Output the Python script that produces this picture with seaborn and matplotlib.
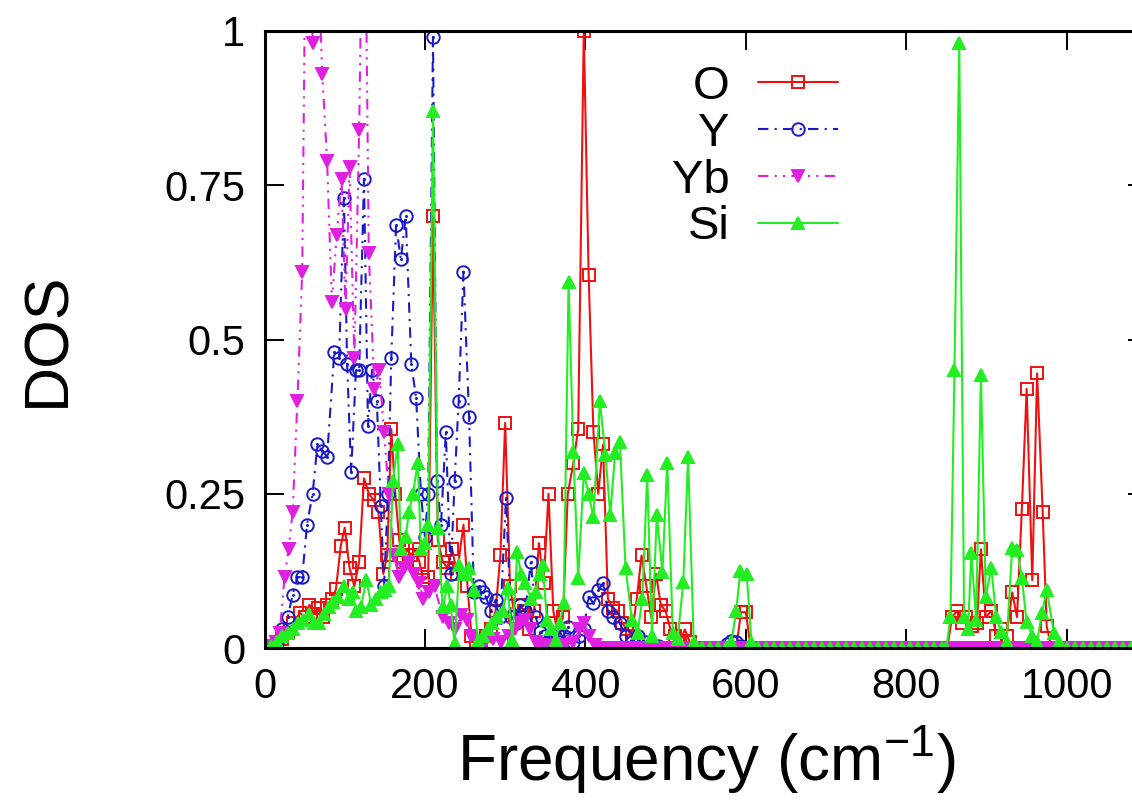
import pandas as pd
import seaborn as sns
import matplotlib.pyplot as plt

# Style: plain white, gnuplot-like
sns.set_theme(style="ticks")
plt.rcParams['font.family'] = ['Liberation Sans', 'DejaVu Sans']
plt.rcParams['mathtext.fontset'] = 'custom'
plt.rcParams['mathtext.rm'] = 'Liberation Sans'
plt.rcParams['mathtext.it'] = 'Liberation Sans:italic'
plt.rcParams['text.color'] = 'black'
plt.rcParams['axes.labelcolor'] = 'black'

# === Data ===
O_freq = [0, 8, 15, 22, 29, 36, 44, 50, 56, 62,
          67, 73, 78, 84, 89, 95, 100, 106, 112, 118,
          124, 130, 136, 142, 148, 153, 158, 163, 168, 173,
          178, 183, 188, 193, 198, 204, 210, 216, 222, 228,
          234, 240, 248, 253, 258, 264, 270, 276, 282, 288,
          294, 300, 306, 312, 318, 324, 330, 336, 342, 348,
          354, 360, 366, 372, 378, 385, 391, 398, 404, 410,
          416, 422, 428, 434, 440, 446, 452, 458, 464, 470,
          476, 482, 488, 494, 500, 506, 512, 518, 524, 530,
          540, 550, 560, 570, 580, 588, 594, 600, 606, 615,
          625, 635, 645, 655, 665, 675, 685, 695, 705, 715,
          725, 735, 745, 755, 765, 775, 785, 795, 805, 815,
          825, 835, 845, 851, 857, 863, 869, 875, 882, 888,
          893, 899, 906, 912, 918, 925, 932, 938, 944, 950,
          957, 963, 970, 975, 981, 990, 1000, 1010, 1020, 1030,
          1040, 1050, 1060, 1070, 1080, 1090, 1100]
O_dos = [0, 0.003, 0.008, 0.015, 0.025, 0.04, 0.057, 0.05, 0.07, 0.055,
         0.065, 0.05, 0.07, 0.08, 0.095, 0.165, 0.195, 0.13, 0.10, 0.14,
         0.275, 0.25, 0.24, 0.22, 0.12, 0.15, 0.355, 0.25, 0.175, 0.14,
         0.16, 0.15, 0.16, 0.14, 0.11, 0.115, 0.70, 0.175, 0.14, 0.13,
         0.16, 0.12, 0.20, 0.10, 0.02, 0.01, 0.008, 0.02, 0.03, 0.06,
         0.15, 0.365, 0.10, 0.05, 0.07, 0.06, 0.03, 0.06, 0.17, 0.105,
         0.25, 0.06, 0.02, 0.05, 0.25, 0.30, 0.355, 1.0, 0.605, 0.35,
         0.25, 0.33, 0.08, 0.065, 0.06, 0.04, 0.03, 0.02, 0.08, 0.15,
         0.10, 0.05, 0.12, 0.07, 0.06, 0.03, 0.02, 0.01, 0.03, 0.01,
         0, 0, 0, 0, 0, 0, 0.058, 0.058, 0, 0,
         0, 0, 0, 0, 0, 0, 0, 0, 0, 0,
         0, 0, 0, 0, 0, 0, 0, 0, 0, 0,
         0, 0, 0, 0, 0.05, 0.06, 0.04, 0.05, 0.035, 0.04,
         0.16, 0.05, 0.06, 0.02, 0.03, 0.02, 0.09, 0.05, 0.225, 0.42,
         0.11, 0.445, 0.22, 0.035, 0, 0, 0, 0, 0, 0,
         0, 0, 0, 0, 0, 0, 0]

Y_freq = [0, 8, 15, 22, 29, 35, 41, 47, 53, 60,
          66, 72, 78, 87, 93, 99, 103, 108, 114, 118,
          124, 129, 134, 140, 145, 149, 154, 158, 164, 170,
          176, 183, 189, 195, 200, 204, 210, 215, 220, 226,
          232, 237, 242, 248, 255, 261, 267, 272, 276, 282,
          288, 294, 301, 307, 313, 319, 325, 332, 338, 344,
          350, 356, 362, 368, 373, 378, 385, 392, 398, 404,
          410, 416, 422, 428, 435, 443, 450, 458, 466, 474,
          482, 490, 500, 510, 520, 530, 540, 550, 560, 570,
          576, 582, 588, 594, 600, 610, 620, 630, 640, 650,
          660, 670, 680, 690, 700, 710, 720, 730, 740, 750,
          760, 770, 780, 790, 800, 810, 820, 830, 840, 850,
          860, 870, 880, 890, 900, 910, 920, 930, 940, 950,
          960, 970, 980, 990, 1000, 1010, 1020, 1030, 1040, 1050,
          1060, 1070, 1080, 1090, 1100]
Y_dos = [0, 0.003, 0.01, 0.03, 0.05, 0.086, 0.115, 0.115, 0.20, 0.25,
         0.33, 0.32, 0.31, 0.48, 0.47, 0.73, 0.46, 0.285, 0.45, 0.45,
         0.76, 0.36, 0.45, 0.40, 0.23, 0.10, 0.25, 0.47, 0.685, 0.63,
         0.70, 0.46, 0.405, 0.25, 0.18, 0.25, 0.99, 0.27, 0.20, 0.35,
         0.12, 0.27, 0.40, 0.61, 0.375, 0.09, 0.10, 0.09, 0.083, 0.06,
         0.078, 0.05, 0.243, 0.05, 0.04, 0.07, 0.06, 0.14, 0.05, 0.026,
         0.02, 0.01, 0.02, 0.01, 0.02, 0.034, 0.01, 0.02, 0.03, 0.083,
         0.073, 0.094, 0.105, 0.06, 0.05, 0.04, 0.02, 0.01, 0.02, 0.01,
         0.005, 0.003, 0, 0, 0, 0, 0, 0, 0, 0,
         0.006, 0.012, 0.01, 0.004, 0, 0, 0, 0, 0, 0,
         0, 0, 0, 0, 0, 0, 0, 0, 0, 0,
         0, 0, 0, 0, 0, 0, 0, 0, 0, 0,
         0, 0, 0, 0, 0, 0, 0, 0, 0, 0,
         0, 0, 0, 0, 0, 0, 0, 0, 0, 0,
         0, 0, 0, 0, 0]

Yb_freq = [0, 8, 14, 19, 25, 30, 35, 41, 47, 53,
           60, 66, 72, 78, 84, 90, 96, 101, 106, 112,
           118, 124, 130, 137, 143, 149, 155, 161, 168, 174,
           180, 186, 193, 198, 205, 212, 222, 230, 238, 245,
           252, 258, 265, 275, 285, 295, 305, 312, 319, 325,
           331, 338, 345, 355, 365, 375, 385, 392, 398, 405,
           412, 420, 430, 440, 450, 460, 470, 480, 490, 500,
           510, 520, 530, 540, 550, 560, 570, 580, 590, 600,
           610, 620, 630, 640, 650, 660, 670, 680, 690, 700,
           710, 720, 730, 740, 750, 760, 770, 780, 790, 800,
           810, 820, 830, 840, 850, 860, 870, 880, 890, 900,
           910, 920, 930, 940, 950, 960, 970, 980, 990, 1000,
           1010, 1020, 1030, 1040, 1050, 1060, 1070, 1080, 1090, 1100]
Yb_dos = [0, 0.003, 0.01, 0.025, 0.115, 0.16, 0.22, 0.40, 0.61, 1.4,
          0.98, 1.15, 0.93, 0.79, 0.56, 0.67, 0.76, 0.55, 0.78, 0.47,
          0.84, 1.4, 0.64, 0.42, 0.45, 0.35, 0.25, 0.15, 0.115, 0.13,
          0.14, 0.12, 0.105, 0.08, 0.09, 0.10, 0.05, 0.04, 0.03, 0.053,
          0.045, 0.02, 0.01, 0.01, 0.015, 0.01, 0.02, 0.03, 0.04, 0.045,
          0.03, 0.01, 0.005, 0.003, 0.005, 0.005, 0.01, 0.03, 0.04, 0.02,
          0.005, 0, 0, 0, 0, 0, 0, 0, 0, 0,
          0, 0, 0, 0, 0, 0, 0, 0, 0, 0,
          0, 0, 0, 0, 0, 0, 0, 0, 0, 0,
          0, 0, 0, 0, 0, 0, 0, 0, 0, 0,
          0, 0, 0, 0, 0, 0, 0, 0, 0, 0,
          0, 0, 0, 0, 0, 0, 0, 0, 0, 0,
          0, 0, 0, 0, 0, 0, 0, 0, 0, 0]

Si_freq = [0, 8, 15, 22, 29, 36, 42, 48, 55, 62,
           68, 74, 80, 86, 92, 99, 105, 110, 114, 120,
           127, 133, 139, 145, 150, 155, 160, 166, 170, 176,
           180, 185, 191, 195, 200, 204, 210, 216, 222, 228,
           232, 237, 243, 249, 255, 261, 266, 272, 278, 284,
           290, 297, 303, 309, 315, 320, 325, 332, 338, 343,
           347, 352, 357, 363, 368, 373, 379, 385, 391, 398,
           404, 410, 418, 425, 431, 437, 443, 450, 458, 465,
           471, 477, 483, 489, 496, 502, 509, 515, 522, 528,
           535, 545, 555, 565, 575, 582, 588, 593, 601, 607,
           615, 625, 635, 645, 655, 665, 675, 685, 695, 705,
           715, 725, 735, 745, 755, 765, 775, 785, 795, 805,
           815, 825, 835, 845, 850, 855, 860, 866, 872, 877,
           881, 887, 893, 899, 906, 912, 918, 925, 932, 938,
           944, 950, 957, 963, 969, 975, 984, 990, 1000, 1010,
           1020, 1030, 1040, 1050, 1060, 1070, 1080, 1090, 1100]
Si_dos = [0, 0.003, 0.01, 0.02, 0.025, 0.03, 0.04, 0.045, 0.055, 0.04,
          0.04, 0.055, 0.066, 0.075, 0.083, 0.10, 0.08, 0.09, 0.06, 0.066,
          0.11, 0.07, 0.08, 0.09, 0.094, 0.10, 0.27, 0.33, 0.16, 0.18,
          0.22, 0.25, 0.30, 0.16, 0.17, 0.20, 0.87, 0.195, 0.066, 0.10,
          0.07, 0.008, 0.135, 0.12, 0.13, 0.094, 0.012, 0.02, 0.03, 0.04,
          0.05, 0.06, 0.097, 0.013, 0.155, 0.12, 0.105, 0.08, 0.09, 0.12,
          0.134, 0.045, 0.03, 0.013, 0.04, 0.073, 0.593, 0.318, 0.113, 0.283,
          0.25, 0.212, 0.40, 0.313, 0.215, 0.316, 0.334, 0.13, 0.045, 0.024,
          0.08, 0.28, 0.02, 0.215, 0.123, 0.30, 0.024, 0.015, 0.107, 0.31,
          0.01, 0, 0, 0, 0, 0.01, 0.06, 0.125, 0.12, 0.01,
          0, 0, 0, 0, 0, 0, 0, 0, 0, 0,
          0, 0, 0, 0, 0, 0, 0, 0, 0, 0,
          0, 0, 0, 0, 0, 0.05, 0.45, 0.98, 0.05, 0.03,
          0.154, 0.045, 0.443, 0.083, 0.13, 0.05, 0.026, 0.01, 0.162, 0.159,
          0.113, 0.042, 0.02, 0.01, 0.057, 0.094, 0.024, 0.01, 0, 0,
          0, 0, 0, 0, 0, 0, 0, 0, 0]

x_ticks = [0, 200, 400, 600, 800, 1000]
y_ticks = [0, 0.25, 0.5, 0.75, 1]
y_tick_labels = ["0", "0.25", "0.5", "0.75", "1"]

# name, freq, dos, color, marker, linestyle, filled marker
series = [
    ("O", O_freq, O_dos, "#ee1111", "s", "-", False),
    ("Y", Y_freq, Y_dos, "#1a1ac8", "o", (0, (5, 3, 1, 3)), False),
    ("Yb", Yb_freq, Yb_dos, "#e020e0", "v", (0, (5, 3, 1, 3, 1, 3)), True),
    ("Si", Si_freq, Si_dos, "#22ee22", "^", "-", True),
]

fig = plt.figure(figsize=(11.32, 8.07), dpi=100)
ax = fig.add_axes([264.5 / 1132, 159 / 807, 882.5 / 1132, 617 / 807])

for name, freq, dos, color, marker, ls, filled in series:
    df = pd.DataFrame({"freq": freq, "dos": dos})
    sns.lineplot(data=df, x="freq", y="dos", ax=ax, label=name,
                 estimator=None, sort=False, color=color, linestyle=ls,
                 linewidth=1.5, marker=marker, markersize=9,
                 markeredgewidth=1.4, markeredgecolor=color,
                 markerfacecolor=color if filled else "none")
    if name == "Y":
        # small dot in the middle of each circle
        sns.lineplot(data=df, x="freq", y="dos", ax=ax, legend=False,
                     estimator=None, sort=False, color=color, linestyle="",
                     marker="o", markersize=2.2, markeredgewidth=0,
                     markeredgecolor=color)

ax.set_xlim(0, 1100)
ax.set_ylim(0, 1)
ax.set_xticks(x_ticks)
ax.set_yticks(y_ticks)
ax.set_yticklabels(y_tick_labels)
ax.tick_params(direction="in", length=14, width=1.4, top=True, right=True,
               labelsize=30, colors="black")
ax.tick_params(axis="x", pad=14)
ax.tick_params(axis="y", pad=14)
for sp in ax.spines.values():
    sp.set_linewidth(2.2)
    sp.set_color("black")
    sp.set_zorder(5)

ax.set_xlabel("Frequency (cm$^{-1}$)", fontsize=46)
ax.set_ylabel("DOS", fontsize=45)
ax.xaxis.set_label_coords(0.5, -0.122)
ax.yaxis.set_label_coords(-0.212, 0.5)

leg = ax.legend(loc="upper right", bbox_to_anchor=(0.650, 0.945),
                frameon=False, fontsize=34, markerfirst=False, numpoints=1,
                handlelength=1.7, handletextpad=0.6, labelspacing=0.06,
                borderpad=0, borderaxespad=0)
# right-align the legend labels like gnuplot does
leg._legend_box._children[-1]._children[0].align = "right"

fig.savefig("out.png", dpi=100)
